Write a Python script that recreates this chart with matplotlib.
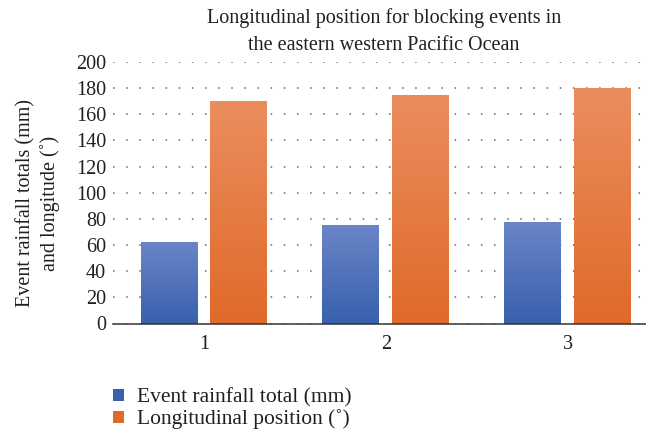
import matplotlib.pyplot as plt
from matplotlib.colors import LinearSegmentedColormap
from matplotlib.patches import Patch
import numpy as np

categories = ['1', '2', '3']
rainfall = [62, 75, 78]
longitude = [170, 175, 180]
series_names = ['Event rainfall total (mm)', 'Longitudinal position (˚)']
title_lines = ['Longitudinal position for blocking events in',
               'the eastern western Pacific Ocean']

plt.rcParams['font.family'] = ['Liberation Serif', 'DejaVu Serif']
txt_color = '#231f20'
fs = 14.5

# gradient colours (top, bottom) for each series
blue_grad = ('#6a85c7', '#3860ad')
orange_grad = ('#ec8d5e', '#df6a2a')


def gradient_bars(ax, bars, colors):
    """Paint each bar with a vertical gradient"""
    cmap = LinearSegmentedColormap.from_list('g', [colors[1], colors[0]])
    grad = np.linspace(0, 1, 256).reshape(-1, 1)
    for b in bars:
        x0, y0 = b.get_x(), b.get_y()
        w, h = b.get_width(), b.get_height()
        im = ax.imshow(grad, extent=[x0, x0 + w, y0, y0 + h], origin='lower',
                       aspect='auto', cmap=cmap, zorder=2)
        im.set_clip_path(b)


W, H = 646, 434
fig = plt.figure(figsize=(W / 100, H / 100), dpi=100)
# axes run past the right edge of the figure, as in the reference
ax = fig.add_axes([113 / W, 1 - 323.5 / H, 545.5 / W, 261.5 / H])

x = np.arange(len(categories))
width = 0.313
offset = 0.192
b1 = ax.bar(x - offset, rainfall, width, color=blue_grad[1], zorder=2)
b2 = ax.bar(x + offset, longitude, width, color=orange_grad[1], zorder=2)
gradient_bars(ax, b1, blue_grad)
gradient_bars(ax, b2, orange_grad)

ax.set_xlim(-0.5, 2.5)
ax.set_ylim(0, 200)
ax.set_yticks(range(0, 201, 20))
ax.set_xticks(x)
ax.set_xticklabels(categories)
ax.yaxis.grid(True, linestyle=(0, (1, 7.6)), color='#666666', linewidth=1.1)
ax.set_axisbelow(True)
for s in ['top', 'right', 'left']:
    ax.spines[s].set_visible(False)
ax.spines['bottom'].set_color('#333333')
ax.spines['bottom'].set_linewidth(1.1)
ax.tick_params(axis='both', length=0, labelsize=fs, colors=txt_color)
ax.tick_params(axis='x', pad=8)
ax.tick_params(axis='y', pad=5)

fig.text(38 / W, 1 - 203 / H, 'Event rainfall totals (mm)\nand longitude (˚)',
         rotation=90, ha='center', va='center', fontsize=fs, color=txt_color,
         linespacing=1.25)

# title, two lines
fig.text(384 / W, 1 - 23 / H, title_lines[0], ha='center', va='baseline',
         fontsize=fs, color=txt_color)
fig.text(384 / W, 1 - 50 / H, title_lines[1], ha='center', va='baseline',
         fontsize=fs, color=txt_color)

handles = [Patch(facecolor=blue_grad[1]), Patch(facecolor=orange_grad[1])]
fig.legend(handles, series_names, loc='upper left', bbox_to_anchor=(113 / W, 1 - 388 / H),
           frameon=False, fontsize=15.5, handlelength=0.52, handleheight=0.52,
           handletextpad=0.6, labelspacing=0.1, borderpad=0, borderaxespad=0,
           labelcolor=txt_color)

fig.savefig('out.png', dpi=100)
